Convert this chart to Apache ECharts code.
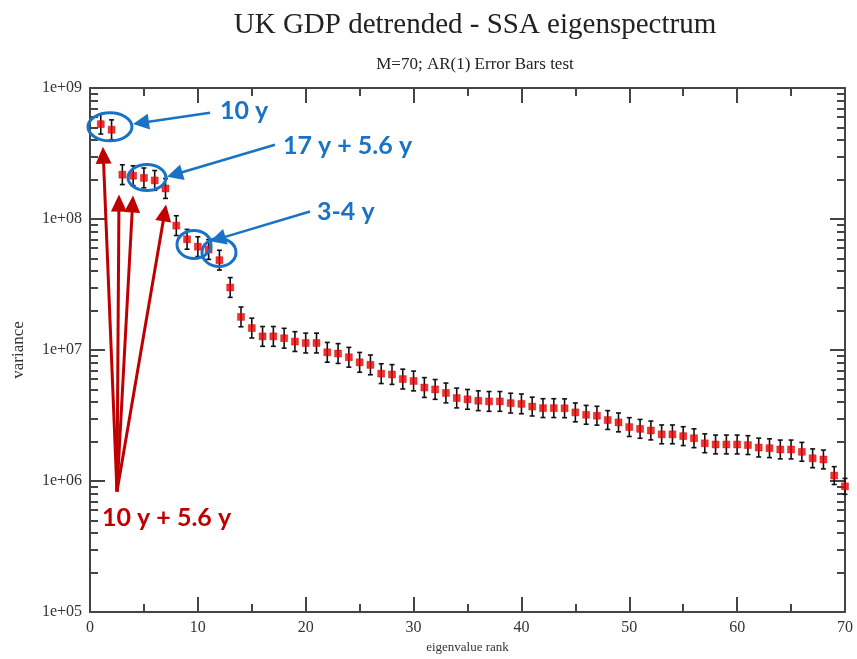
<!DOCTYPE html>
<html>
<head>
<meta charset="utf-8">
<script src="https://cdn.jsdelivr.net/npm/echarts@6/dist/echarts.min.js"></script>
<style>
  html, body { margin: 0; padding: 0; background: #fff; }
  #chart { width: 857px; height: 659px; }
</style>
</head>
<body>
<div id="chart"></div>
<script>
// Eigenvalue ranks 1..70 (window length M = 70)
const ranks = [
  1, 2, 3, 4, 5, 6, 7, 8, 9, 10,
  11, 12, 13, 14, 15, 16, 17, 18, 19, 20,
  21, 22, 23, 24, 25, 26, 27, 28, 29, 30,
  31, 32, 33, 34, 35, 36, 37, 38, 39, 40,
  41, 42, 43, 44, 45, 46, 47, 48, 49, 50,
  51, 52, 53, 54, 55, 56, 57, 58, 59, 60,
  61, 62, 63, 64, 65, 66, 67, 68, 69, 70
];

// SSA eigenvalues (variance) of detrended UK GDP
const variance = [
  5.3e8, 4.8e8, 2.18e8, 2.14e8, 2.06e8, 1.97e8, 1.71e8, 8.9e7, 7.0e7, 6.15e7,
  5.85e7, 4.85e7, 3.0e7, 1.79e7, 1.47e7, 1.27e7, 1.27e7, 1.23e7, 1.16e7, 1.13e7,
  1.13e7, 9.6e6, 9.4e6, 8.8e6, 8.05e6, 7.7e6, 6.6e6, 6.5e6, 6.0e6, 5.8e6,
  5.17e6, 5.0e6, 4.7e6, 4.3e6, 4.2e6, 4.1e6, 4.05e6, 4.05e6, 3.93e6, 3.88e6,
  3.7e6, 3.6e6, 3.6e6, 3.59e6, 3.34e6, 3.2e6, 3.15e6, 2.92e6, 2.8e6, 2.58e6,
  2.5e6, 2.43e6, 2.27e6, 2.27e6, 2.2e6, 2.12e6, 1.94e6, 1.9e6, 1.9e6, 1.9e6,
  1.88e6, 1.8e6, 1.78e6, 1.74e6, 1.74e6, 1.67e6, 1.49e6, 1.46e6, 1.1e6, 9.1e5
];

// AR(1) error bar half-width, as a multiplicative factor on each eigenvalue
const errorFactor = [
  1.19, 1.19, 1.19, 1.19, 1.19, 1.19, 1.19, 1.19, 1.19, 1.19,
  1.19, 1.19, 1.19, 1.19, 1.19, 1.19, 1.19, 1.19, 1.19, 1.19,
  1.19, 1.19, 1.19, 1.19, 1.19, 1.19, 1.19, 1.19, 1.19, 1.19,
  1.19, 1.19, 1.19, 1.19, 1.19, 1.19, 1.19, 1.19, 1.19, 1.19,
  1.18, 1.18, 1.18, 1.18, 1.18, 1.18, 1.18, 1.18, 1.18, 1.18,
  1.18, 1.18, 1.18, 1.18, 1.18, 1.18, 1.18, 1.18, 1.18, 1.18,
  1.18, 1.18, 1.18, 1.18, 1.18, 1.18, 1.18, 1.18, 1.17, 1.15
];

// Axis ticks
const xMinorTicks = [5, 15, 25, 35, 45, 55, 65];
const yDecades = [1e5, 1e6, 1e7, 1e8, 1e9];
const yMinorMultipliers = [2, 3, 4, 5, 6, 7, 8, 9];
const yMinorTicks = [];
yDecades.slice(0, -1).forEach(d => yMinorMultipliers.forEach(m => yMinorTicks.push(d * m)));

// Annotations, anchored in data space: [rank, variance]
const blueEllipses = [
  { c: [1.85, 5.05e8], rx: 22, ry: 14 },
  { c: [5.28, 2.07e8], rx: 19, ry: 13 },
  { c: [9.64, 6.4e7], rx: 17, ry: 14 },
  { c: [11.96, 5.56e7], rx: 17, ry: 14 }
];
const blueArrows = [
  { from: [11.13, 6.46e8], to: [3.99, 5.32e8] },
  { from: [17.15, 3.69e8], to: [7.14, 2.1e8] },
  { from: [20.4, 1.14e8], to: [11.13, 6.75e7] }
];
const blueLabels = [
  { text: '10 y', at: [12.05, 6.68e8] },
  { text: '17 y + 5.6 y', at: [17.89, 3.62e8] },
  { text: '3-4 y', at: [21.05, 1.14e8] }
];
const redBase = [2.5, 8.32e5];
const redTips = [[1.2, 3.56e8], [2.69, 1.536e8], [3.99, 1.51e8], [7.05, 1.29e8]];
const redLabel = { text: '10 y + 5.6 y', at: [1.11, 5.27e5] };

const BLUE = '#1a72c4';
const RED = '#c00000';
const AXIS = '#444';
const SERIF = '"Liberation Serif", "DejaVu Serif", serif';
const SANS = 'Lato, "Open Sans", sans-serif';

const chart = echarts.init(document.getElementById('chart'));

const axisLine = { show: true, onZero: false, lineStyle: { color: AXIS, width: 2 } };
const hiddenLine = { show: false, onZero: false };
const tickStyle = { color: AXIS, width: 2 };

function xAxisDef(position, withLabels) {
  return [
    {
      type: 'value', position, min: 0, max: 70, interval: 10,
      axisLine,
      axisTick: { show: true, inside: true, length: 15, lineStyle: tickStyle },
      axisLabel: withLabels
        ? { show: true, margin: 8, fontSize: 16, fontFamily: SERIF, color: '#333' }
        : { show: false },
      splitLine: { show: false },
      name: withLabels ? 'eigenvalue rank' : '',
      nameLocation: 'middle', nameGap: 29,
      nameTextStyle: { fontSize: 13, fontFamily: SERIF, color: '#333' }
    },
    {
      type: 'value', position, min: 0, max: 70,
      axisLine: hiddenLine,
      axisTick: { show: true, inside: true, length: 8, lineStyle: tickStyle, customValues: xMinorTicks },
      axisLabel: { show: false },
      splitLine: { show: false }
    }
  ];
}

function yAxisDef(position, withLabels) {
  return [
    {
      type: 'log', logBase: 10, position, min: 1e5, max: 1e9,
      axisLine,
      axisTick: { show: true, inside: true, length: 15, lineStyle: tickStyle, customValues: yDecades },
      axisLabel: withLabels
        ? {
            show: true, margin: 8, fontSize: 16, fontFamily: SERIF, color: '#333',
            customValues: yDecades,
            formatter: v => '1e+' + String(Math.round(Math.log10(v))).padStart(2, '0')
          }
        : { show: false },
      splitLine: { show: false },
      name: withLabels ? 'variance' : '',
      nameLocation: 'middle', nameGap: 63, nameRotate: 90,
      nameTextStyle: { fontSize: 17, fontFamily: SERIF, color: '#333' }
    },
    {
      type: 'log', logBase: 10, position, min: 1e5, max: 1e9,
      axisLine: hiddenLine,
      axisTick: { show: true, inside: true, length: 8, lineStyle: tickStyle, customValues: yMinorTicks },
      axisLabel: { show: false },
      splitLine: { show: false }
    }
  ];
}

const errorData = ranks.map((r, i) => [r, variance[i] / errorFactor[i], variance[i] * errorFactor[i]]);
const pointData = ranks.map((r, i) => [r, variance[i]]);

chart.setOption({
  animation: false,
  backgroundColor: '#fff',
  title: [
    {
      text: 'UK GDP detrended - SSA eigenspectrum',
      left: 470, top: 6, textAlign: 'center',
      textStyle: { fontFamily: SERIF, fontSize: 29, fontWeight: 'normal', color: '#222' }
    },
    {
      text: 'M=70; AR(1) Error Bars test',
      left: 470, top: 51, textAlign: 'center',
      textStyle: { fontFamily: SERIF, fontSize: 17, fontWeight: 'normal', color: '#222' }
    }
  ],
  grid: { left: 90, right: 12, top: 88, bottom: 45, containLabel: false },
  xAxis: [...xAxisDef('bottom', true), ...xAxisDef('top', false)],
  yAxis: [...yAxisDef('left', true), ...yAxisDef('right', false)],
  series: [
    {
      type: 'custom',
      xAxisIndex: 0, yAxisIndex: 0,
      clip: false,
      encode: { x: 0, y: [1, 2] },
      data: errorData,
      renderItem: (params, api) => {
        const x = api.value(0);
        const top = api.coord([x, api.value(2)]);
        const bot = api.coord([x, api.value(1)]);
        const cap = 2.5;
        const style = { stroke: '#111', lineWidth: 1.6 };
        return {
          type: 'group',
          children: [
            { type: 'line', shape: { x1: top[0], y1: top[1], x2: bot[0], y2: bot[1] }, style },
            { type: 'line', shape: { x1: top[0] - cap, y1: top[1], x2: top[0] + cap, y2: top[1] }, style },
            { type: 'line', shape: { x1: bot[0] - cap, y1: bot[1], x2: bot[0] + cap, y2: bot[1] }, style }
          ]
        };
      },
      z: 3
    },
    {
      type: 'scatter',
      xAxisIndex: 0, yAxisIndex: 0,
      clip: false,
      symbol: 'rect', symbolSize: 7,
      itemStyle: { color: '#ee0000', borderColor: '#c00000', borderWidth: 0.5 },
      data: pointData,
      z: 4
    }
  ]
});

// Overlay annotations: circled eigenvalue groups with period labels
const toPx = p => chart.convertToPixel({ xAxisIndex: 0, yAxisIndex: 0 }, p);

function arrow(fromPx, tipPx, color, width, headLen, headHalf) {
  const dx = tipPx[0] - fromPx[0], dy = tipPx[1] - fromPx[1];
  const len = Math.hypot(dx, dy);
  const ux = dx / len, uy = dy / len;
  const bx = tipPx[0] - ux * headLen, by = tipPx[1] - uy * headLen;
  return [
    { type: 'line', shape: { x1: fromPx[0], y1: fromPx[1], x2: bx + ux * 2, y2: by + uy * 2 },
      style: { stroke: color, lineWidth: width }, z: 10 },
    { type: 'polygon', shape: { points: [
        [tipPx[0], tipPx[1]],
        [bx - uy * headHalf, by + ux * headHalf],
        [bx + uy * headHalf, by - ux * headHalf]
      ] }, style: { fill: color }, z: 10 }
  ];
}

const graphics = [];
blueEllipses.forEach(e => {
  const c = toPx(e.c);
  graphics.push({ type: 'ellipse', shape: { cx: c[0], cy: c[1], rx: e.rx, ry: e.ry },
    style: { fill: null, stroke: BLUE, lineWidth: 3 }, z: 10 });
});
blueArrows.forEach(a => graphics.push(...arrow(toPx(a.from), toPx(a.to), BLUE, 2.5, 16, 8)));
blueLabels.forEach(l => {
  const p = toPx(l.at);
  graphics.push({ type: 'text', x: p[0], y: p[1], z: 10,
    style: { text: l.text, fill: BLUE, font: 'bold 25px ' + SANS, textVerticalAlign: 'middle' } });
});
const basePx = toPx(redBase);
redTips.forEach(t => graphics.push(...arrow(basePx, toPx(t), RED, 3, 17, 8)));
{
  const p = toPx(redLabel.at);
  graphics.push({ type: 'text', x: p[0], y: p[1], z: 10,
    style: { text: redLabel.text, fill: RED, font: 'bold 25px ' + SANS, textVerticalAlign: 'middle' } });
}
chart.setOption({ graphic: graphics });
</script>
</body>
</html>
